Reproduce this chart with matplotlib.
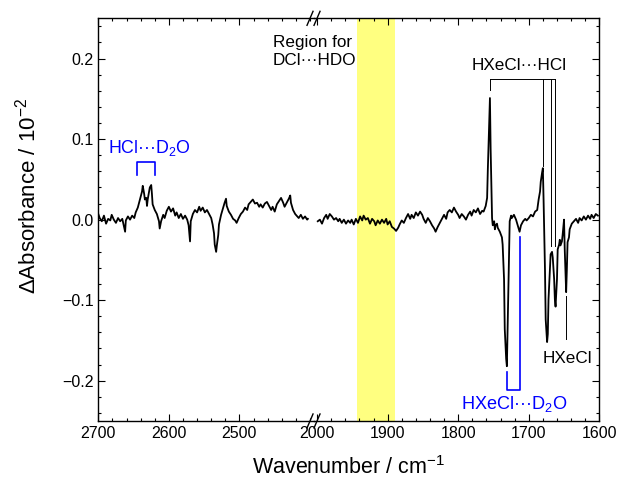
import matplotlib
matplotlib.use("Agg")
import matplotlib.pyplot as plt
from matplotlib.ticker import MultipleLocator
from matplotlib.lines import Line2D

plt.rcParams['font.family'] = ['Liberation Sans', 'DejaVu Sans']
plt.rcParams['mathtext.fontset'] = 'custom'
plt.rcParams['mathtext.rm'] = 'Liberation Sans'
plt.rcParams['mathtext.it'] = 'Liberation Sans:italic'

# spectrum, left part (2700-2400 cm-1), absorbance in 1e-2 units
wn_left = [2700, 2698, 2695, 2692, 2689, 2686, 2683, 2681, 2678, 2675, 2672, 2669, 2666, 2664,
           2662, 2661, 2658, 2655, 2652, 2649, 2647, 2644, 2641, 2638, 2637, 2635, 2634, 2632,
           2631, 2630, 2628, 2627, 2625, 2624, 2623, 2620, 2617, 2614, 2613, 2611, 2608, 2606,
           2603, 2600, 2597, 2594, 2591, 2589, 2586, 2583, 2580, 2577, 2574, 2572, 2570, 2569,
           2566, 2563, 2560, 2557, 2555, 2552, 2549, 2546, 2543, 2540, 2538, 2536, 2535, 2533,
           2532, 2530, 2529, 2526, 2523, 2521, 2519, 2518, 2515, 2512, 2509, 2506, 2504, 2501,
           2498, 2495, 2492, 2489, 2487, 2484, 2481, 2478, 2475, 2472, 2470, 2467, 2464, 2461,
           2458, 2455, 2453, 2450, 2447, 2444, 2441, 2438, 2436, 2433, 2430, 2428, 2427, 2424,
           2421, 2419, 2416, 2413, 2410, 2407, 2404, 2403]
abs_left = [0.007, 0.002, -0.002, 0.005, -0.005, 0.001, -0.001, 0.006, 0.0, -0.004, 0.002, -0.002,
            0.001, -0.007, -0.015, -0.001, 0.004, 0.0, 0.005, 0.002, 0.009, 0.015, 0.025, 0.035,
            0.042, 0.032, 0.025, 0.027, 0.017, 0.025, 0.035, 0.040, 0.043, 0.032, 0.019, 0.012,
            0.007, -0.002, -0.011, -0.002, 0.006, 0.002, 0.011, 0.016, 0.010, 0.014, 0.005, 0.009,
            0.002, 0.007, 0.001, 0.005, 0.0, -0.007, -0.027, -0.002, 0.007, 0.012, 0.009, 0.016,
            0.011, 0.015, 0.009, 0.012, 0.007, 0.002, -0.006, -0.017, -0.031, -0.040, -0.032,
            -0.019, -0.006, 0.006, 0.015, 0.021, 0.026, 0.017, 0.010, 0.006, 0.001, -0.001, -0.004,
            0.002, 0.007, 0.010, 0.015, 0.012, 0.019, 0.022, 0.025, 0.020, 0.021, 0.016, 0.019,
            0.015, 0.020, 0.022, 0.017, 0.012, 0.016, 0.010, 0.019, 0.023, 0.027, 0.021, 0.016,
            0.021, 0.026, 0.030, 0.021, 0.012, 0.007, 0.005, 0.002, 0.006, 0.001, 0.004, 0.0, 0.001]

# spectrum, right part (2000-1600 cm-1)
wn_right = [1999, 1996, 1993, 1990, 1987, 1985, 1982, 1979, 1976, 1973, 1970, 1968, 1965, 1962,
            1959, 1956, 1953, 1951, 1948, 1945, 1942, 1939, 1936, 1934, 1931, 1928, 1925, 1922,
            1919, 1917, 1914, 1911, 1908, 1905, 1902, 1900, 1897, 1894, 1891, 1888, 1885, 1883,
            1880, 1877, 1874, 1871, 1868, 1866, 1863, 1860, 1857, 1854, 1851, 1849, 1846, 1843,
            1840, 1837, 1834, 1832, 1829, 1826, 1823, 1820, 1817, 1815, 1812, 1809, 1806, 1803,
            1800, 1798, 1795, 1792, 1789, 1786, 1783, 1781, 1778, 1775, 1772, 1769, 1766, 1764,
            1761, 1759, 1758, 1756, 1755, 1754, 1752, 1751, 1749, 1748, 1747, 1745, 1744, 1741,
            1738, 1737, 1735, 1734, 1732, 1731, 1730, 1728, 1727, 1725, 1724, 1721, 1718, 1715,
            1713, 1711, 1708, 1705, 1703, 1700, 1697, 1694, 1691, 1688, 1687, 1686, 1684, 1683,
            1681, 1680, 1679, 1677, 1676, 1674, 1673, 1672, 1670, 1669, 1667, 1666, 1664, 1663,
            1662, 1660, 1659, 1657, 1656, 1655, 1653, 1652, 1650, 1649, 1647, 1646, 1645, 1643,
            1642, 1639, 1636, 1633, 1630, 1628, 1625, 1622, 1619, 1616, 1613, 1611, 1608, 1605,
            1602]
abs_right = [-0.002, 0.0, -0.005, 0.002, 0.006, 0.001, 0.007, 0.004, 0.0, 0.002, -0.002, 0.001,
             -0.004, 0.0, -0.005, -0.001, -0.004, 0.0, -0.006, 0.001, -0.004, 0.004, -0.001, 0.005,
             0.0, 0.002, -0.005, 0.001, -0.002, -0.007, -0.001, -0.005, 0.0, -0.004, 0.001, -0.006,
             -0.002, -0.009, -0.011, -0.014, -0.010, -0.006, -0.001, -0.004, 0.002, 0.007, 0.001,
             0.006, 0.002, 0.009, 0.005, 0.010, 0.006, 0.001, -0.004, 0.002, -0.002, -0.007, -0.011,
             -0.015, -0.009, -0.004, 0.001, 0.006, 0.001, 0.009, 0.012, 0.009, 0.015, 0.010, 0.006,
             0.002, 0.007, 0.004, 0.0, 0.006, 0.010, 0.005, 0.012, 0.009, 0.014, 0.007, 0.011,
             0.010, 0.017, 0.027, 0.062, 0.124, 0.151, 0.087, 0.002, -0.007, -0.002, -0.012,
             -0.007, -0.005, -0.010, -0.015, -0.022, -0.031, -0.074, -0.136, -0.173, -0.182,
             -0.136, -0.049, -0.002, 0.005, 0.002, 0.006, 0.0, -0.009, -0.015, -0.007, -0.002,
             0.001, -0.001, 0.002, 0.006, 0.004, 0.010, 0.012, 0.019, 0.025, 0.035, 0.047, 0.059,
             0.064, 0.025, -0.062, -0.124, -0.152, -0.142, -0.099, -0.062, -0.043, -0.040, -0.047,
             -0.074, -0.099, -0.108, -0.074, -0.037, -0.031, -0.025, -0.032, -0.027, -0.019, 0.0,
             -0.037, -0.090, -0.062, -0.028, -0.022, -0.012, -0.005, -0.002, 0.001, -0.004, 0.002,
             -0.001, 0.004, 0.0, 0.005, 0.001, 0.006, 0.002, 0.007, 0.005]

left_lim = (2700, 2395)
right_lim = (2005, 1600)
band = (1943, 1890)

# HXeCl...HCl band positions and where their marker lines stop
hcl_pos = [1755, 1680, 1669, 1663]
hcl_end = [0.161, 0.066, -0.033, -0.033]

fig = plt.figure(figsize=(6.19, 4.82), dpi=100)
L, B, W, H = 0.1588, 0.1266, 0.8094, 0.8354
wl = W * (left_lim[0] - left_lim[1]) / ((left_lim[0] - left_lim[1]) + (right_lim[0] - right_lim[1]))
ax1 = fig.add_axes([L, B, wl, H])
ax2 = fig.add_axes([L + wl, B, W - wl, H], sharey=ax1)
ax2.patch.set_visible(False)

ax2.axvspan(band[0], band[1], color='#ffff80', lw=0, zorder=0)
ax1.plot(wn_left, abs_left, color='black', lw=1.3)
ax2.plot(wn_right, abs_right, color='black', lw=1.3)

ax1.set_xlim(*left_lim)
ax2.set_xlim(*right_lim)
ax1.set_ylim(-0.25, 0.25)

for ax in (ax1, ax2):
    ax.xaxis.set_minor_locator(MultipleLocator(20))
    ax.yaxis.set_major_locator(MultipleLocator(0.1))
    ax.yaxis.set_minor_locator(MultipleLocator(0.02))
    ax.tick_params(which='both', direction='in', top=True, width=0.8, labelsize=11.5)
    ax.tick_params(which='major', length=5)
    ax.tick_params(which='minor', length=2.5)
    for s in ax.spines.values():
        s.set_linewidth(1.0)
ax1.set_xticks([2700, 2600, 2500])
ax2.xaxis.set_major_locator(MultipleLocator(100))
ax1.yaxis.set_major_formatter(plt.FuncFormatter(lambda v, p: f"{v:.1f}".replace('-', '\u2212')))
ax1.tick_params(which='both', right=False)
ax2.tick_params(which='both', left=False, right=True, labelleft=False)
ax1.spines['right'].set_visible(False)
ax2.spines['left'].set_visible(False)

# break marks
xb = L + wl
for dx in (-3.5 / 619, 3.5 / 619):
    for yb in (B, B + H):
        fig.add_artist(Line2D([xb + dx - 3 / 619, xb + dx + 3 / 619],
                              [yb - 7 / 482, yb + 7 / 482],
                              transform=fig.transFigure, color='black', lw=1.0))

fig.text(L + W / 2, 0.031, 'Wavenumber / cm$^{\u22121}$', ha='center', va='center', fontsize=15.5)
fig.text(0.044, 0.593, '\u0394Absorbance / 10$^{\u22122}$', rotation=90,
         ha='center', va='center', fontsize=16)

# annotations
fs = 12.3
ax1.text(2453, 0.209, 'Region for\nDCl\u00b7\u00b7\u00b7HDO', ha='left', va='center',
         fontsize=fs, linespacing=1.25)

ax1.text(2627, 0.089, 'HCl\u00b7\u00b7\u00b7D$_2$O', color='blue', ha='center', va='center', fontsize=fs + 0.5)
ax1.plot([2645, 2645, 2620, 2620], [0.056, 0.072, 0.072, 0.056], color='blue', lw=1.2)

ax2.text(1713, 0.192, 'HXeCl\u00b7\u00b7\u00b7HCl', ha='center', va='center', fontsize=fs)
ax2.plot([hcl_pos[0], hcl_pos[-1]], [0.175, 0.175], color='black', lw=0.7)
for p, e in zip(hcl_pos, hcl_end):
    ax2.plot([p, p], [0.175, e], color='black', lw=0.7)

ax2.plot([1647, 1647], [-0.095, -0.148], color='black', lw=0.7)
ax2.text(1645, -0.172, 'HXeCl', ha='center', va='center', fontsize=fs)

ax2.plot([1731, 1731, 1713, 1713], [-0.189, -0.211, -0.211, -0.022], color='blue', lw=1.2)
ax2.text(1721, -0.229, 'HXeCl\u00b7\u00b7\u00b7D$_2$O', color='blue', ha='center', va='center', fontsize=fs + 0.8)

fig.savefig('out.png', dpi=100)
